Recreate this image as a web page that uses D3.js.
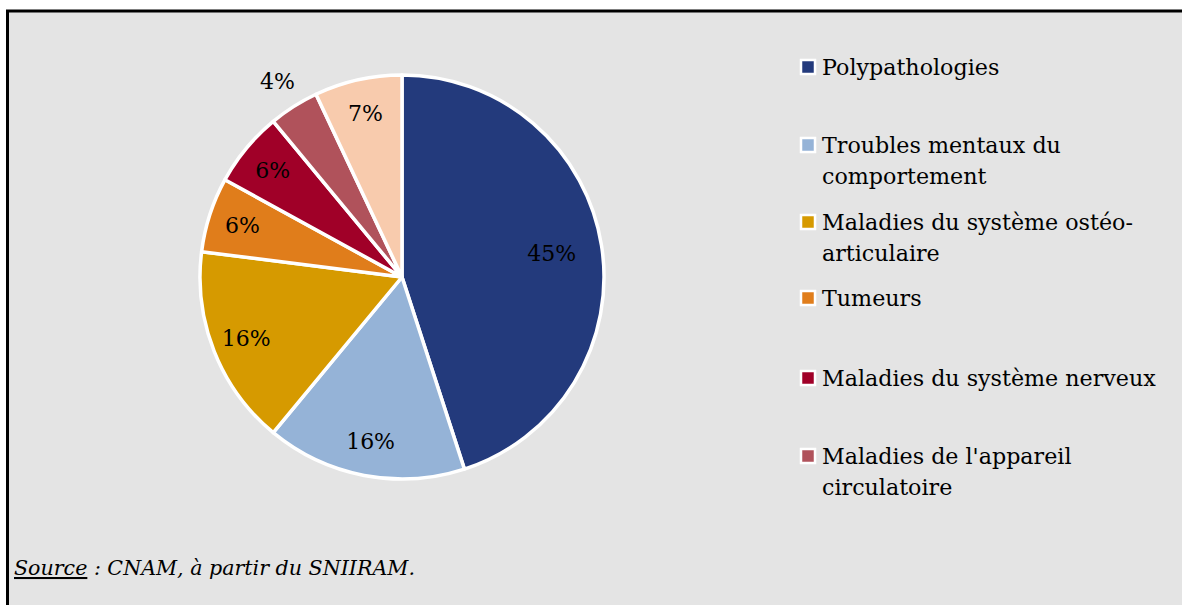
<!DOCTYPE html>
<html>
<head>
<meta charset="utf-8">
<script src="https://cdn.jsdelivr.net/npm/d3@7"></script>
<style>
  body { margin: 0; background: #fff; }
  svg text { font-family: "DejaVu Serif", serif; }
</style>
</head>
<body>
<div id="main"></div>
<script>
(function(){

  const categories = [
    "Polypathologies",
    "Troubles mentaux du comportement",
    "Maladies du système ostéo-articulaire",
    "Tumeurs",
    "Maladies du système nerveux",
    "Maladies de l'appareil circulatoire",
    "Autres"
  ]
  const values = [45, 16, 16, 6, 6, 4, 7]
  const colors = ["#233a7c", "#95b3d7", "#d69a00", "#e07d1b", "#a00028", "#b0525b", "#f8cbad"]
  // legend lines as they wrap in the original (last entry is cut off)
  const legendLines = [
    ["Polypathologies"],
    ["Troubles mentaux du", "comportement"],
    ["Maladies du système ostéo-", "articulaire"],
    ["Tumeurs"],
    ["Maladies du système nerveux"],
    ["Maladies de l'appareil", "circulatoire"]
  ]

  const width = 1182
  const height = 605
  const cx = 402, cy = 277, r = 202

  const svg = d3.select("#main").append("svg")
    .attr("width", width)
    .attr("height", height)

  svg.append("rect")
    .attr("x", 7.5).attr("y", 11)
    .attr("width", width).attr("height", height)
    .attr("fill", "#e4e4e4")
    .attr("stroke", "#000")
    .attr("stroke-width", 3)

  const data = categories.map((c, i) => ({ name: c, value: values[i], color: colors[i] }))

  const pie = d3.pie().sort(null).value(d => d.value)
  const arcs = pie(data)
  const arc = d3.arc().innerRadius(0).outerRadius(r)

  const g = svg.append("g").attr("transform", `translate(${cx},${cy})`)

  g.selectAll("path")
    .data(arcs)
    .join("path")
    .attr("d", arc)
    .attr("fill", d => d.data.color)
    .attr("stroke", "#fff")
    .attr("stroke-width", 3.5)
    .attr("stroke-linejoin", "round")

  const labelR = d => d.data.value > 40 ? 0.75 * r : d.data.value < 5 ? 1.15 * r : 0.83 * r

  g.selectAll("text.pct")
    .data(arcs)
    .join("text")
    .attr("class", "pct")
    .attr("transform", d => {
      const a = (d.startAngle + d.endAngle) / 2
      const lr = labelR(d)
      return `translate(${Math.sin(a) * lr},${-Math.cos(a) * lr})`
    })
    .attr("text-anchor", "middle")
    .attr("dy", "0.35em")
    .attr("font-size", 22)
    .attr("fill", "#000")
    .text(d => d3.format(".0%")(d.data.value / 100))

  // legend
  const legendTops = [67, 145, 222, 298, 378, 456]
  const lineH = 31
  const leg = svg.append("g")
  legendLines.forEach((lines, i) => {
    const y = legendTops[i]
    leg.append("rect")
      .attr("x", 801).attr("y", y - 7)
      .attr("width", 14).attr("height", 14)
      .attr("fill", colors[i])
      .attr("stroke", "#fff")
      .attr("stroke-width", 2.5)
    lines.forEach((t, j) => {
      leg.append("text")
        .attr("x", 822)
        .attr("y", y + j * lineH)
        .attr("dy", "0.35em")
        .attr("font-size", 22.2)
        .attr("fill", "#000")
        .text(t)
    })
  })

  const src = svg.append("text")
    .attr("x", 14).attr("y", 575)
    .attr("font-size", 20.6)
    .attr("font-style", "italic")
    .attr("fill", "#000")
  src.append("tspan").attr("text-decoration", "underline").text("Source")
  src.append("tspan").text(" : CNAM, à partir du SNIIRAM.")
}())
</script>
</body>
</html>
